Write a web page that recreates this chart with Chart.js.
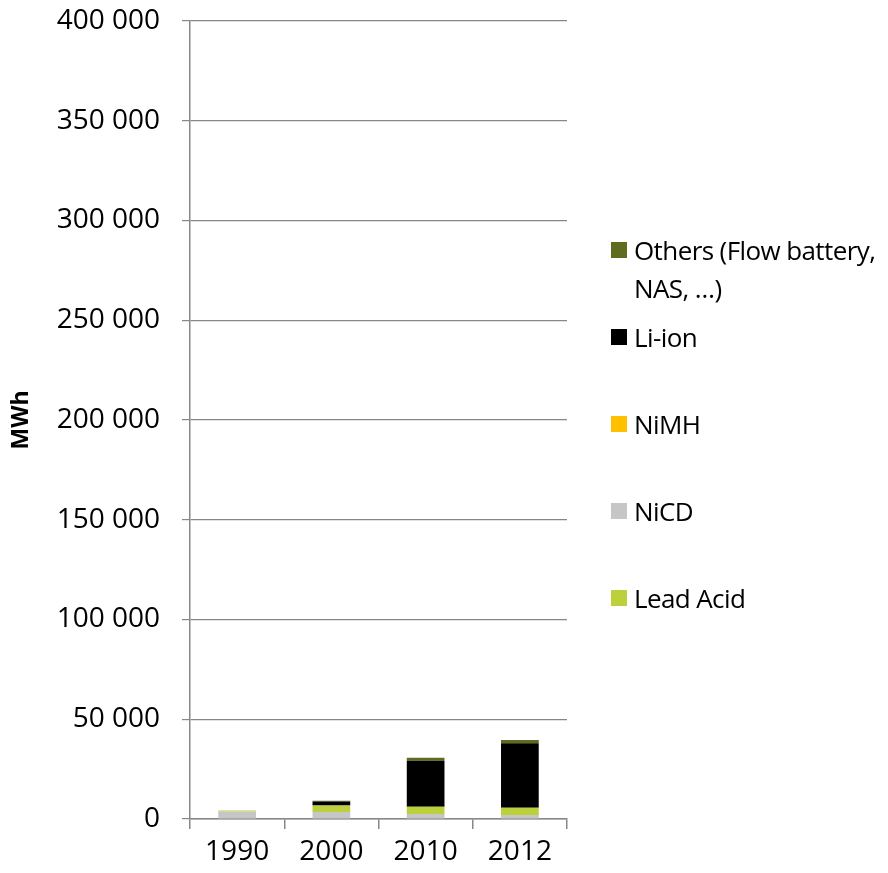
<!DOCTYPE html>
<html>
<head>
<meta charset="utf-8">
<script src="https://cdn.jsdelivr.net/npm/chart.js@4.4.1/dist/chart.umd.min.js"></script>
<style>
  body { margin: 0; background: #fff; }
  #wrap { position: relative; width: 888px; height: 873px; overflow: hidden; }
  #box { position: absolute; left: 0; top: -18px; width: 888px; height: 891px; }
  #legend { position: absolute; left: 611px; top: 0; font-family: 'Open Sans', sans-serif; font-size: 26px; letter-spacing: -0.6px; color: #000; }
  .lg { position: absolute; left: 0; white-space: nowrap; line-height: 38px; }
  .lg i { position: absolute; left: 0; top: 11px; width: 16px; height: 16px; }
  .lg span { position: absolute; left: 23px; top: 0; }
</style>
</head>
<body>
<div id="wrap">
  <div id="box"><canvas id="chart"></canvas></div>
  <div id="legend"></div>
</div>
<script>
// ── Dados (MWh) ──
const years     = ['1990', '2000', '2010', '2012'];
const nicd      = [3800, 3500, 2500, 2000];
const leadAcid  = [400, 3300, 3700, 3700];
const nimh      = [0, 0, 0, 0];
const liIon     = [0, 2000, 23000, 32200];
const others    = [100, 300, 1500, 1700];

const COLORS = {
  others: '#5f6b1e',
  liion:  '#000000',
  nimh:   '#ffc000',
  nicd:   '#c6c6c6',
  lead:   '#bbd03a',
};
const GRID = '#878787';
const FONT = "'Open Sans', sans-serif";

// ── Legenda (ordem do original, de cima para baixo) ──
const legendItems = [
  ['Others (Flow battery,<br>NAS, …)', COLORS.others, 231],
  ['Li-ion',    COLORS.liion, 318],
  ['NiMH',      COLORS.nimh,  405],
  ['NiCD',      COLORS.nicd,  492],
  ['Lead Acid', COLORS.lead,  579],
];
document.getElementById('legend').innerHTML = legendItems.map(d =>
  `<div class="lg" style="top:${d[2]}px"><i style="background:${d[1]}"></i><span>${d[0]}</span></div>`
).join('');

const fmtNum = v => String(v).replace(/\B(?=(\d{3})+(?!\d))/g, ' ');

const ctx = document.getElementById('chart').getContext('2d');
new Chart(ctx, {
  type: 'bar',
  data: {
    labels: years,
    datasets: [
      { label: 'NiCD',      data: nicd,     backgroundColor: COLORS.nicd },
      { label: 'Lead Acid', data: leadAcid, backgroundColor: COLORS.lead },
      { label: 'NiMH',      data: nimh,     backgroundColor: COLORS.nimh },
      { label: 'Li-ion',    data: liIon,    backgroundColor: COLORS.liion },
      { label: 'Others (Flow battery, NAS, …)', data: others, backgroundColor: COLORS.others },
    ]
  },
  options: {
    responsive: true, maintainAspectRatio: false, animation: false,
    categoryPercentage: 1, barPercentage: 0.4,
    layout: { padding: { top: 2, right: 321, bottom: 0, left: 0 } },
    plugins: { legend: { display: false }, tooltip: { enabled: false } },
    scales: {
      x: {
        stacked: true,
        grid: { offset: true, drawOnChartArea: false, drawTicks: true, tickLength: 10, color: GRID, lineWidth: 1.5 },
        border: { color: GRID, width: 1.5 },
        ticks: { color: '#000', font: { family: FONT, size: 28 }, padding: 6 },
        afterFit: s => { s.height = 54; }
      },
      y: {
        stacked: true, min: 0, max: 400000,
        grid: { color: GRID, lineWidth: 1.2, tickLength: 8 },
        border: { color: GRID, width: 1.5 },
        ticks: { stepSize: 50000, color: '#000', font: { family: FONT, size: 28 }, padding: 22, callback: v => fmtNum(v) },
        title: { display: true, text: 'MWh', color: '#000', font: { family: FONT, size: 23, weight: 'bold' }, padding: { top: 8, bottom: 0 } },
        afterFit: s => { s.width = 190; }
      }
    }
  }
});
</script>
</body>
</html>
